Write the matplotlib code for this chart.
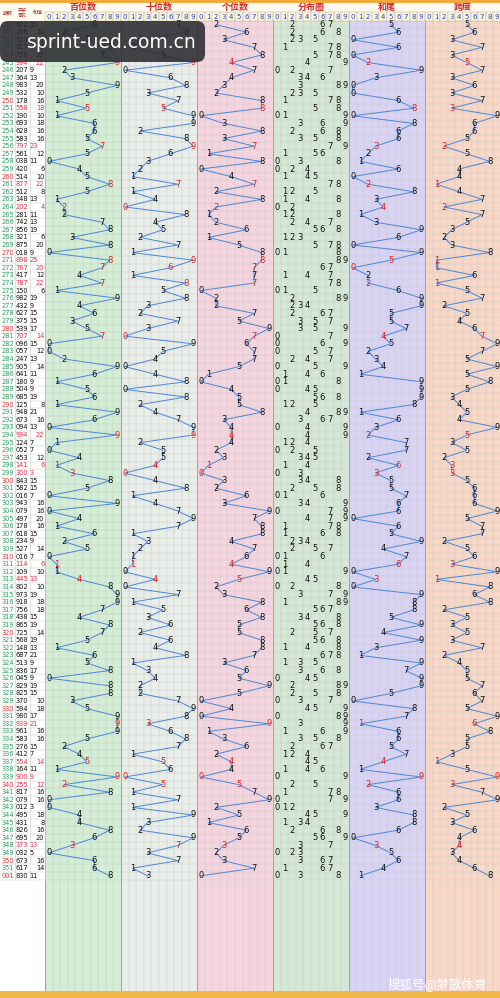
import numpy as np
import matplotlib
matplotlib.use("Agg")
import matplotlib.pyplot as plt
from matplotlib.patches import Rectangle, FancyBboxPatch

plt.rcParams['font.family'] = ['DejaVu Sans', 'Noto Sans CJK SC']

# issue numbers and draws
issues = [str(i) for i in range(240, 352)] + ['001']
draws = [
    '672', '286', '523', '817', '758', '994', '207', '364', '983', '532',
    '178', '558', '190', '693', '628', '583', '797', '561', '038', '420',
    '514', '877', '512', '148', '202', '281', '742', '856', '321', '875',
    '018', '898', '767', '417', '787', '150', '982', '432', '627', '375',
    '539', '707', '096', '057', '247', '905', '641', '180', '504', '685',
    '125', '948', '673', '094', '994', '124', '052', '453', '141', '300',
    '843', '582', '016', '943', '079', '497', '178', '618', '234', '527',
    '016', '114', '109', '445', '802', '973', '918', '756', '438', '865',
    '725', '568', '148', '687', '513', '836', '045', '829', '825', '370',
    '594', '980', '939', '961', '583', '276', '412', '554', '164', '900',
    '255', '817', '079', '012', '495', '431', '826', '695', '373', '032',
    '673', '617', '830',
]
sections = ['百位数', '十位数', '个位数', '分布图', '和尾', '跨度']
sec_colors = ['#d3eed5', '#e9eeea', '#f6d4df', '#d5e8d6', '#d8d2f4', '#f8d7c7']

digits = np.array([[int(c) for c in d] for d in draws])
hund, tens, units = digits[:, 0], digits[:, 1], digits[:, 2]
sums = digits.sum(axis=1)
tail = sums % 10
span = digits.max(axis=1) - digits.min(axis=1)
pair = np.array([len(set(d)) < 3 for d in draws])

W, H = 500, 998
rh = 7.6          # row height
cw = 7.6          # cell width
top = 20.8        # top of first data row
x0 = 45.0         # left edge of first section
n = len(draws)
yc = top + (np.arange(n) + 0.5) * rh
bottom = top + n * rh

fig = plt.figure(figsize=(W / 100, H / 100), dpi=100)
ax = fig.add_axes([0, 0, 1, 1])
ax.set_xlim(0, W)
ax.set_ylim(H, 0)
ax.axis('off')
fig.patch.set_facecolor('white')

# section backgrounds
for s in range(6):
    sx = x0 + s * 10 * cw
    ax.add_patch(Rectangle((sx, top), 10 * cw, 991 - top, color=sec_colors[s], lw=0, zorder=0))
    for k in range(11):
        ax.plot([sx + k * cw] * 2, [top, 991], color='#9aa79a' if k in (0, 10) else '#c4cdc4',
                lw=0.7 if k in (0, 10) else 0.35, zorder=1)

# horizontal row lines
for i in range(n + 1):
    ax.plot([0, W], [top + i * rh] * 2, color='#c9cfc9', lw=0.35, zorder=1)
for xv in (15, 30, 45):
    ax.plot([xv, xv], [top, bottom], color='#c9cfc9', lw=0.4, zorder=1)

# header
ax.add_patch(Rectangle((0, 0), W, 3.2, color='#f2a93b', lw=0, zorder=2))
ax.add_patch(Rectangle((0, 3.2), W, top - 3.2, color='#fdfaf0', lw=0, zorder=1))
ax.text(7.5, 12.5, '期数', fontsize=3.6, color='#b03030', ha='center', va='center',
        family=['Noto Sans CJK SC'])
ax.text(22.5, 12.5, '开奖\n号码', fontsize=3.2, color='#b03030', ha='center', va='center',
        family=['Noto Sans CJK SC'], linespacing=1.0)
ax.text(37.5, 12.5, '和值', fontsize=3.6, color='#b03030', ha='center', va='center',
        family=['Noto Sans CJK SC'])
for s, name in enumerate(sections):
    sx = x0 + s * 10 * cw
    ax.text(sx + 5 * cw, 7.8, name, fontsize=6.5, color='#d42a2a', ha='center', va='center',
            family=['Noto Sans CJK SC'], fontweight='bold')
    for k in range(10):
        ax.add_patch(Rectangle((sx + k * cw, 12.2), cw, top - 12.2, facecolor='#fdf6dc',
                               edgecolor='#b9b39c', lw=0.35, zorder=2))
        ax.text(sx + (k + 0.5) * cw, 16.6, str(k), fontsize=5, color='#2346c8',
                ha='center', va='center', zorder=3)

# left columns
for i in range(n):
    red = issues[i].endswith('0') or issues[i] == '001'
    ax.text(7.5, yc[i], issues[i], fontsize=4.8, color='#d23a3a' if red else '#2e9e62',
            ha='center', va='center', zorder=3)
    col = '#e0304a' if pair[i] else '#111111'
    ax.text(22, yc[i], draws[i], fontsize=4.8, color=col, ha='center', va='center', zorder=3)
    if sums[i] % 2:
        ax.text(29.5, yc[i], str(sums[i]), fontsize=4.8, color=col, ha='left', va='center', zorder=3)
    else:
        ax.text(44.5, yc[i], str(sums[i]), fontsize=4.8, color=col, ha='right', va='center', zorder=3)

# trend sections
trend = {0: hund, 1: tens, 2: units, 4: tail, 5: span}
for s, vals in trend.items():
    sx = x0 + s * 10 * cw
    xs = sx + (vals + 0.5) * cw
    ax.plot(xs, yc, color='#4d86d8', lw=0.7, zorder=4)
    for i in range(n):
        ax.text(xs[i], yc[i], str(vals[i]), fontsize=6, color='#e02020' if pair[i] else '#111111',
                ha='center', va='center', zorder=5)

# distribution section
sx = x0 + 3 * 10 * cw
for i in range(n):
    for d in sorted(set(digits[i])):
        ax.text(sx + (d + 0.5) * cw, yc[i], str(d), fontsize=6, color='#111111',
                ha='center', va='center', zorder=5)

# bottom band
ax.add_patch(Rectangle((0, 991), W, H - 991, color='#f2b64a', lw=0, zorder=2))

# watermarks
ax.add_patch(FancyBboxPatch((0, 21), 205, 41, boxstyle='round,pad=0,rounding_size=8',
                            facecolor='#2b2b2f', edgecolor='none', alpha=0.88, zorder=8))
ax.text(112, 42, 'sprint-ued.com.cn', fontsize=13.5, color='white', ha='center', va='center', zorder=9)
ax.text(437, 984, '搜狐号@梦歌体育', fontsize=9, color='white', ha='center', va='center', zorder=9,
        family=['Noto Sans CJK SC'])

fig.savefig('out.png', dpi=100)
